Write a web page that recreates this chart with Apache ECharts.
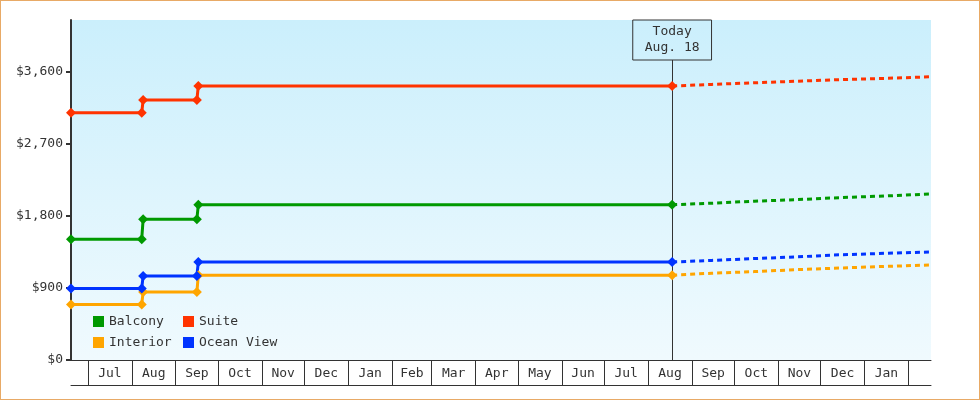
<!DOCTYPE html>
<html>
<head>
    <meta charset="UTF-8">
    <title>Cabin prices</title>
    <script src="https://cdn.jsdelivr.net/npm/echarts@6.0.0/dist/echarts.min.js"></script>
    <style>
        body { margin: 0; background: #fff; }
        #main { width: 980px; height: 400px; box-sizing: border-box; border: 1px solid #e8aa66; }
    </style>
</head>
<body>
<div id="main"></div>
<script type="text/javascript">
    // month boundaries on the time axis, and the label shown inside each month cell
    var monthStarts = ['2016-07-01', '2016-08-01', '2016-09-01', '2016-10-01', '2016-11-01', '2016-12-01',
        '2017-01-01', '2017-02-01', '2017-03-01', '2017-04-01', '2017-05-01', '2017-06-01', '2017-07-01',
        '2017-08-01', '2017-09-01', '2017-10-01', '2017-11-01', '2017-12-01', '2018-01-01', '2018-02-01'];
    var monthLabels = ['Jul', 'Aug', 'Sep', 'Oct', 'Nov', 'Dec', 'Jan', 'Feb', 'Mar', 'Apr', 'May', 'Jun',
        'Jul', 'Aug', 'Sep', 'Oct', 'Nov', 'Dec', 'Jan'];
    var axisStart = '2016-06-19';
    var axisEnd = '2018-02-17';
    var yTicks = [0, 900, 1800, 2700, 3600];

    var today = '2017-08-18';
    var todayText = 'Today\nAug. 18';

    // price history (steps), one value per date
    var histDates = ['2016-06-19', '2016-08-08', '2016-08-09', '2016-09-16', '2016-09-17', '2017-08-18'];
    var balconyHist = [1510, 1510, 1760, 1760, 1940, 1940];
    var suiteHist = [3090, 3090, 3250, 3250, 3425, 3425];
    var interiorHist = [695, 695, 850, 850, 1060, 1060];
    var oceanHist = [895, 895, 1050, 1050, 1225, 1225];

    // forecast after today (dotted)
    var fcDates = ['2017-08-18', '2017-09-15', '2017-10-15', '2017-11-15', '2017-12-15', '2018-01-15', '2018-02-17'];
    var balconyFc = [1940, 1960, 1985, 2005, 2030, 2050, 2075];
    var suiteFc = [3425, 3445, 3465, 3485, 3505, 3520, 3540];
    var interiorFc = [1060, 1085, 1105, 1130, 1150, 1170, 1187];
    var oceanFc = [1225, 1245, 1268, 1290, 1315, 1333, 1350];

    var FONT = 'DejaVu Sans Mono';
    var TXT = '#333';

    function d(s) {
        var p = s.split('-');
        return new Date(+p[0], p[1] - 1, +p[2]).getTime();
    }
    function pairs(dates, vals) {
        return dates.map(function (t, i) { return [d(t), vals[i]]; });
    }

    var tickVals = monthStarts.map(d);
    var labelVals = [];
    for (var i = 0; i < monthLabels.length; i++) {
        labelVals.push((tickVals[i] + tickVals[i + 1]) / 2);
    }

    function hist(name, color, vals, extra) {
        var s = {
            name: name,
            type: 'line',
            data: pairs(histDates, vals),
            color: color,
            symbol: 'diamond',
            symbolSize: 10,
            showSymbol: true,
            lineStyle: { width: 3 },
            z: 3
        };
        if (extra) s.markLine = extra;
        return s;
    }
    function fc(name, color, vals) {
        return {
            name: name + ' forecast',
            type: 'line',
            data: pairs(fcDates, vals),
            color: color,
            showSymbol: false,
            lineStyle: { width: 3, type: [5, 4] },
            z: 2
        };
    }

    var todayLine = {
        silent: true,
        symbol: 'none',
        lineStyle: { color: TXT, width: 1, type: 'solid' },
        label: {
            show: true,
            position: 'end',
            distance: 0,
            formatter: todayText,
            fontFamily: FONT,
            fontSize: 13,
            lineHeight: 16,
            color: TXT,
            borderColor: TXT,
            borderWidth: 1,
            padding: [4, 12, 4, 12]
        },
        data: [[{ coord: [d(today), 0] }, { coord: [d(today), 3750] }]],
        z: 1
    };

    var myChart = echarts.init(document.getElementById('main'));

    var legendStyle = {
        orient: 'vertical', top: 314, padding: 0,
        icon: 'rect', itemWidth: 11, itemHeight: 11, itemGap: 8,
        textStyle: { fontFamily: FONT, fontSize: 13, color: TXT, lineHeight: 12 }
    };

    var option = {
        animation: false,
        textStyle: { fontFamily: FONT },
        grid: {
            left: 70, right: 48, top: 19, bottom: 39,
            show: true,
            borderWidth: 0,
            backgroundColor: new echarts.graphic.LinearGradient(0, 0, 0, 1, [
                { offset: 0, color: '#cbeffc' },
                { offset: 1, color: '#f0fafe' }
            ])
        },
        legend: [
            Object.assign({ data: ['Balcony', 'Interior'], left: 92 }, legendStyle),
            Object.assign({ data: ['Suite', 'Ocean View'], left: 182 }, legendStyle)
        ],
        xAxis: [
            {
                type: 'value',
                min: d(axisStart),
                max: d(axisEnd),
                axisLine: { lineStyle: { color: TXT, width: 1 } },
                axisTick: { show: true, length: 25, customValues: tickVals, lineStyle: { color: TXT, width: 1 } },
                axisLabel: {
                    customValues: labelVals,
                    margin: 7,
                    fontFamily: FONT, fontSize: 13, color: TXT,
                    formatter: function (v) {
                        for (var k = 0; k < labelVals.length; k++) {
                            if (Math.abs(labelVals[k] - v) < 864e5) return monthLabels[k];
                        }
                        return '';
                    }
                },
                splitLine: { show: false }
            },
            {
                type: 'value',
                position: 'bottom',
                offset: 25,
                min: d(axisStart),
                max: d(axisEnd),
                axisLine: { show: true, lineStyle: { color: TXT, width: 1 } },
                axisTick: { show: false },
                axisLabel: { show: false },
                splitLine: { show: false }
            }
        ],
        yAxis: {
            type: 'value',
            min: 0,
            max: 4250,
            interval: 900,
            axisLine: { show: true, lineStyle: { color: TXT, width: 2 } },
            axisTick: { show: true, length: 5, customValues: yTicks, lineStyle: { color: TXT, width: 2 } },
            axisLabel: {
                customValues: yTicks,
                margin: 8,
                fontFamily: FONT, fontSize: 13, color: TXT,
                formatter: function (v) { return '$' + v.toLocaleString('en-US'); }
            },
            splitLine: { show: false }
        },
        series: [
            fc('Balcony', '#009900', balconyFc),
            fc('Suite', '#ff3300', suiteFc),
            fc('Interior', '#ffa500', interiorFc),
            fc('Ocean View', '#0033ff', oceanFc),
            hist('Balcony', '#009900', balconyHist, todayLine),
            hist('Suite', '#ff3300', suiteHist),
            hist('Interior', '#ffa500', interiorHist),
            hist('Ocean View', '#0033ff', oceanHist)
        ]
    };

    myChart.setOption(option);
</script>
</body>
</html>
